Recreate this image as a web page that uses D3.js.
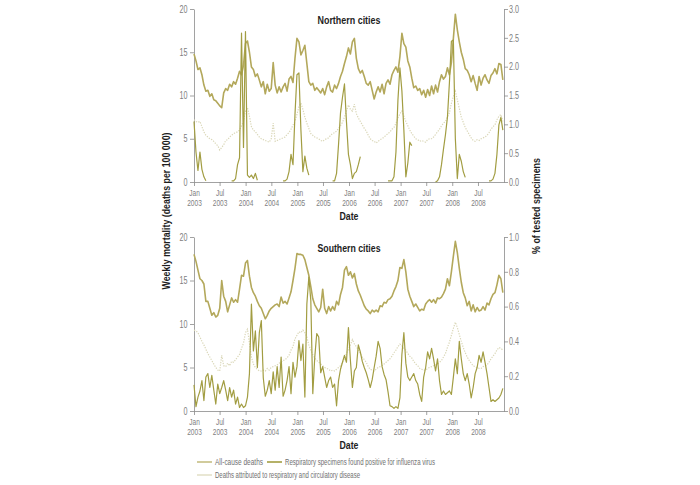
<!DOCTYPE html>
<html>
<head>
<meta charset="utf-8">
<script src="https://cdn.jsdelivr.net/npm/d3@7"></script>
<style>
  body { margin: 0; background: #fff; }
  text { font-family: "Liberation Sans", Arial, sans-serif; }
</style>
</head>
<body>
<div id="chart"></div>
<script>
// samples are every 2 weeks from 1 Jan 2003
const startDate = new Date(2003, 0, 1);
const stepDays = 14;

// Northern cities, deaths per 100 000
const northAllCause = [
  14.8, 14.0, 13.0, 13.2, 12.4, 11.2, 10.5, 10.6, 9.9, 10.2, 9.5, 9.4, 9.1,
  8.8, 8.6, 10.3, 10.8, 10.6, 11.3, 11.0, 11.6, 11.3, 12.0, 12.8, 12.4, 13.5,
  16.0, 16.3, 15.0, 13.3, 13.0, 12.2, 12.5, 11.8, 11.0, 11.6, 10.2, 11.3, 10.5,
  10.8, 13.8, 11.2, 10.3, 11.0, 10.4, 11.0, 11.4, 10.5, 11.9, 12.2, 11.5, 14.3,
  16.6, 16.2, 14.7, 15.2, 15.8, 13.7, 11.6, 11.2, 11.4, 10.6, 10.9, 10.6, 10.3,
  10.8, 10.1, 11.0, 11.6, 10.6, 10.4, 11.2, 10.8, 11.4, 12.2, 12.8, 13.7, 14.5,
  15.5, 14.8, 16.2, 16.6, 14.3, 13.1, 12.6, 12.9, 12.2, 11.4, 11.2, 11.6, 10.6,
  9.6, 10.4, 11.0, 10.4, 11.3, 10.2, 11.4, 11.8, 11.3, 12.4, 12.9, 13.3, 12.7,
  14.5, 17.2, 16.0, 15.6, 14.0, 13.3, 12.0, 10.9, 11.1, 10.6, 10.8, 10.1, 10.6,
  9.8, 10.7, 10.0, 11.1, 10.2, 11.2, 10.4, 11.6, 12.4, 11.9, 12.2, 13.2, 12.4,
  13.8, 16.6, 19.4, 17.6, 16.2, 15.0, 14.2, 13.1, 12.9, 12.4, 11.6, 12.3, 11.4,
  10.6, 12.2, 11.2, 12.0, 12.4, 11.8, 11.4, 12.3, 12.6, 13.1, 12.5, 13.7, 13.6,
  11.8
];
const northRespCirc = [
  7.2, 7.0, 6.9, 7.0, 6.4, 5.8, 5.4, 5.2, 5.0, 4.9, 4.7, 4.4, 4.2,
  3.7, 4.0, 4.3, 4.8, 4.9, 5.2, 5.4, 5.6, 5.7, 5.8, 6.0, 6.5, 7.0,
  8.2, 8.6, 7.6, 6.4, 6.0, 5.8, 5.5, 5.2, 5.0, 4.9, 4.8, 4.7, 4.6,
  5.0, 6.8, 4.7, 4.8, 4.9, 5.0, 5.1, 5.2, 5.5, 5.7, 6.1, 6.6, 7.0,
  7.8, 8.7, 9.1, 8.4, 7.5, 6.8, 6.2, 5.6, 5.4, 5.2, 5.1, 5.0, 4.8,
  4.7, 4.9, 5.0, 5.1, 5.4, 5.6, 5.7, 5.9, 6.2, 6.5, 6.9, 7.5, 8.2,
  8.9, 8.4, 8.2, 9.0, 7.9, 7.4, 7.0, 6.6, 6.2, 5.9, 5.4, 5.0, 4.8,
  4.7, 4.5, 4.7, 4.9, 5.0, 5.2, 5.4, 5.6, 5.8, 6.1, 6.3, 6.8, 7.4,
  7.9, 8.2, 7.6, 7.0, 6.5, 6.0, 5.6, 5.3, 5.0, 4.9, 4.7, 4.8, 4.7,
  4.6, 4.9, 5.0, 5.0, 5.2, 5.5, 5.8, 6.1, 6.5, 6.8, 7.0, 7.5, 8.0,
  9.1, 9.9, 10.5, 9.5, 8.5, 7.5, 6.9, 6.3, 5.9, 5.5, 5.1, 4.8, 4.7,
  4.9, 4.8, 5.0, 5.1, 5.2, 5.4, 5.7, 6.1, 6.4, 6.6, 7.2, 7.6, 7.8,
  7.0
];
// % of tested specimens positive for influenza (null = not reported)
const northFlu = [
  1.05, 0.52, 0.20, 0.52, 0.22, 0.09, 0.02, null, null, null, null, null, null,
  null, null, null, null, null, null, 0.02, 0.02, 0.06, 0.30, 0.42, 2.58, 0.60,
  2.61, 0.12, 0.08, 0.12, 0.06, 0.15, 0.03, null, null, null, null, null, null,
  null, null, null, null, null, null, 0.02, 0.02, 0.05, 0.18, 0.48, 0.30, 1.17,
  1.86, 1.89, 0.90, 0.18, 0.45, 0.24, 0.12, null, null, null, null, null, null,
  null, null, null, null, null, 0.02, 0.02, 0.15, 0.65, 1.20, 1.47, 1.70, 1.05,
  0.48, 0.30, 0.06, 0.15, 0.18, 0.30, 0.44, null, null, null, null, null, null,
  null, null, null, null, null, null, null, 0.02, 0.02, 0.02, 0.09, 0.52, 1.42,
  1.98, 1.58, 0.90, 0.09, 0.33, 0.69, 0.63, null, null, null, null, null, null,
  null, null, null, null, null, 0.0, 0.02, 0.09, 0.30, 0.57, 0.82, 1.12, 1.72,
  2.44, 2.46, 0.75, 0.06, 0.48, 0.36, 0.18, 0.08, null, null, null, null, null,
  null, null, null, null, null, null, 0.02, 0.02, 0.05, 0.15, 0.48, 0.99, 1.12,
  0.90
];

// Southern cities
const southAllCause = [
  18.0, 17.2, 16.2, 15.2, 15.0, 14.6, 12.6, 12.6, 11.8, 11.0, 11.3, 10.8, 11.0,
  11.8, 15.0, 13.2, 12.6, 11.4, 12.2, 13.0, 12.5, 12.8, 12.5, 14.0, 15.6, 15.5,
  17.0, 17.3, 15.5, 14.2, 13.6, 13.2, 12.6, 12.1, 11.8, 11.2, 10.6, 11.0, 11.5,
  11.8, 12.0, 12.2, 12.3, 12.0, 13.1, 12.4, 12.6, 12.3, 13.0, 13.7, 15.0, 16.4,
  18.1, 18.0, 18.0, 17.9, 17.4, 16.5, 15.6, 14.3, 12.9, 12.2, 11.8, 11.4, 11.9,
  14.0, 11.8, 11.2, 12.0, 11.5, 12.0, 11.6, 12.6, 12.2, 13.4, 14.2, 16.2, 16.6,
  15.6, 16.0, 15.3, 15.8, 14.6, 13.8, 13.3, 12.7, 12.1, 11.7, 11.5, 11.2, 11.6,
  11.4, 11.6, 11.4, 12.1, 12.0, 12.5, 12.4, 12.8, 12.9, 13.2, 13.8, 14.3, 15.0,
  16.5, 16.4, 17.4, 16.0, 14.0, 13.2, 12.6, 12.0, 12.3, 11.9, 11.5, 11.7, 11.6,
  12.3, 12.6, 12.8, 12.5, 12.8, 12.4, 13.0, 12.9, 13.1, 13.5, 14.0, 15.2, 14.4,
  16.0, 17.8, 19.5, 18.2, 16.4, 14.8, 13.6, 13.0, 12.1, 12.6, 11.5, 12.2, 11.4,
  11.9, 11.5, 11.6, 12.0, 11.6, 12.4, 12.2, 12.9, 13.4, 13.6, 14.5, 15.6, 15.2,
  13.6
];
const southRespCirc = [
  9.3, 9.2, 9.0, 8.5, 8.0, 7.6, 7.1, 6.6, 6.2, 5.8, 5.4, 5.0, 4.7,
  4.6, 6.4, 5.2, 5.1, 5.5, 5.2, 5.7, 5.6, 5.9, 6.2, 6.5, 7.2, 7.8,
  9.0, 9.4, 7.8, 6.2, 5.4, 5.0, 4.8, 4.6, 4.6, 4.7, 4.6, 4.9, 4.7,
  5.0, 5.1, 5.2, 5.3, 5.5, 5.6, 5.8, 5.9, 6.1, 6.4, 7.0, 7.4, 8.3,
  8.7, 9.1, 9.0, 9.3, 9.0, 8.5, 7.6, 7.0, 6.5, 6.1, 5.8, 5.6, 5.4,
  5.2, 5.0, 4.9, 4.8, 4.6, 4.7, 4.6, 4.8, 5.0, 5.2, 5.6, 6.0, 6.6,
  7.1, 7.6, 8.2, 7.7, 7.4, 7.0, 6.6, 6.2, 5.9, 5.6, 5.1, 4.8, 4.7,
  4.6, 4.8, 5.0, 5.1, 5.2, 5.4, 5.6, 5.8, 6.0, 6.3, 6.7, 7.0, 7.4,
  7.7, 7.5, 7.2, 7.0, 6.6, 6.3, 6.1, 5.7, 5.4, 5.2, 4.9, 4.8, 4.7,
  4.7, 4.9, 5.0, 5.1, 5.2, 5.3, 5.4, 5.6, 5.8, 6.2, 6.6, 7.3, 7.9,
  8.7, 9.5, 10.2, 9.6, 8.8, 8.0, 7.3, 6.7, 6.2, 5.8, 5.5, 5.2, 5.1,
  5.0, 4.9, 4.9, 5.1, 5.2, 5.3, 5.6, 6.0, 6.3, 6.6, 7.0, 7.3, 7.2,
  7.0
];
const southFlu = [
  0.15, 0.025, 0.08, 0.115, 0.175, 0.06, 0.195, 0.215, 0.135, 0.205, 0.12, 0.04, 0.155,
  0.10, 0.135, 0.175, 0.12, 0.06, 0.135, 0.08, 0.12, 0.04, 0.08, 0.02, 0.04, 0.02,
  0.03, 0.08, 0.215, 0.615, 0.345, 0.46, 0.25, 0.45, 0.52, 0.19, 0.085, 0.12, 0.175,
  0.10, 0.225, 0.12, 0.255, 0.135, 0.31, 0.085, 0.12, 0.175, 0.255, 0.10, 0.28, 0.195,
  0.255, 0.405, 0.29, 0.385, 0.08, 0.615, 0.77, 0.635, 0.10, 0.31, 0.445, 0.425, 0.22,
  0.255, 0.195, 0.135, 0.175, 0.195, 0.135, 0.155, 0.03, 0.175, 0.24, 0.28, 0.32, 0.28,
  0.48, 0.29, 0.135, 0.23, 0.25, 0.38, 0.34, 0.285, 0.25, 0.22, 0.18, 0.135, 0.18,
  0.25, 0.315, 0.40, 0.36, 0.255, 0.21, 0.18, 0.11, 0.03, 0.025, 0.015, 0.025, 0.015,
  0.075, 0.325, 0.45, 0.275, 0.195, 0.175, 0.195, 0.215, 0.175, 0.155, 0.095, 0.055, 0.195,
  0.25, 0.34, 0.30, 0.36, 0.30, 0.23, 0.30, 0.175, 0.095, 0.115, 0.095, 0.105, 0.115,
  0.095, 0.195, 0.30, 0.215, 0.40, 0.30, 0.215, 0.175, 0.215, 0.155, 0.075, 0.135, 0.215,
  0.25, 0.32, 0.28, 0.34, 0.28, 0.215, 0.135, 0.055, 0.065, 0.055, 0.065, 0.075, 0.095,
  0.13
];

const mortalityTicks = [0, 5, 10, 15, 20];
const northPctTicks = [0, 0.5, 1.0, 1.5, 2.0, 2.5, 3.0];
const southPctTicks = [0, 0.2, 0.4, 0.6, 0.8, 1.0];
const monthNames = ['Jan', 'Jul'];

const legendItems = [
  'All-cause deaths',
  'Respiratory specimens found positive for influenza virus',
  'Deaths attributed to respiratory and circulatory disease'
];

const COL_ALL = '#b3a85b';
const COL_FLU = '#a29d42';
const COL_RESP = '#dad7b8';
const AXIS = '#8a8a8a';
const TXT = '#808080';
const SQUEEZE = 'scale(0.72,1)';

const width = 700;
const height = 485;
const left = 194;
const right = 504;

const svg = d3.select('#chart')
  .append('svg')
  .attr('width', width)
  .attr('height', height);

const xScale = d3.scaleTime()
  .domain([new Date(2003, 0, 1), new Date(2009, 0, 1)])
  .range([left, right]);

const dateAt = i => d3.timeDay.offset(startDate, i * stepDays);
const xTicks = d3.timeMonth.every(6).range(new Date(2003, 0, 1), new Date(2009, 0, 1));

// bold label squeezed to the width it has in the original
const label = (parent, text, size, fitWidth) => parent.append('text')
  .attr('text-anchor', 'middle')
  .attr('font-weight', 'bold')
  .attr('font-size', size)
  .attr('fill', '#1e1e1e')
  .attr('textLength', fitWidth)
  .attr('lengthAdjust', 'spacingAndGlyphs')
  .text(text);

const drawPanel = (top, bottom, title, allCause, respCirc, flu, pctTicks) => {
  const g = svg.append('g');
  const yScale = d3.scaleLinear().domain([0, 20]).range([bottom, top]);
  const pctScale = d3.scaleLinear()
    .domain([0, d3.max(pctTicks)])
    .range([bottom, top]);

  const xAxis = g.append('g')
    .attr('transform', `translate(0, ${bottom})`)
    .call(d3.axisBottom(xScale).tickValues(xTicks).tickSize(4).tickSizeOuter(0).tickFormat(''));
  xAxis.selectAll('.tick text').remove();
  xAxis.selectAll('.tick').each(function(d) {
    const tick = d3.select(this);
    tick.append('text')
      .attr('class', 'xlab')
      .attr('text-anchor', 'middle')
      .attr('transform', SQUEEZE)
      .attr('y', 14)
      .text(monthNames[d.getMonth() === 0 ? 0 : 1]);
    tick.append('text')
      .attr('class', 'xlab')
      .attr('text-anchor', 'middle')
      .attr('transform', SQUEEZE)
      .attr('y', 24.2)
      .text(d.getFullYear());
  });
  xAxis.selectAll('.xlab').attr('fill', TXT).attr('font-size', 9.1);

  g.append('g')
    .attr('transform', `translate(${left}, 0)`)
    .call(d3.axisLeft(yScale).tickValues(mortalityTicks).tickSize(4).tickSizeOuter(0).tickPadding(5));

  g.append('g')
    .attr('transform', `translate(${right}, 0)`)
    .call(d3.axisRight(pctScale).tickValues(pctTicks).tickSize(4).tickSizeOuter(0).tickPadding(3)
      .tickFormat(d3.format('.1f')));

  g.selectAll('.domain, .tick line').attr('stroke', AXIS).attr('stroke-width', 0.8);
  g.selectAll('.tick text:not(.xlab)')
    .attr('fill', TXT)
    .attr('font-size', 10)
    .attr('font-family', '"Liberation Sans", Arial, sans-serif')
    .attr('transform', SQUEEZE);

  const mortLine = d3.line()
    .x((d, i) => xScale(dateAt(i)))
    .y(d => yScale(d));

  const fluLine = d3.line()
    .defined(d => d !== null)
    .x((d, i) => xScale(dateAt(i)))
    .y(d => pctScale(d));

  g.append('path')
    .datum(respCirc)
    .attr('fill', 'none')
    .attr('stroke', COL_RESP)
    .attr('stroke-width', 1.2)
    .attr('stroke-dasharray', '1.3,1.3')
    .attr('d', mortLine);

  g.append('path')
    .datum(allCause)
    .attr('fill', 'none')
    .attr('stroke', COL_ALL)
    .attr('stroke-width', 1.6)
    .attr('stroke-linejoin', 'round')
    .attr('d', mortLine);

  g.append('path')
    .datum(flu)
    .attr('fill', 'none')
    .attr('stroke', COL_FLU)
    .attr('stroke-width', 1.2)
    .attr('stroke-linejoin', 'round')
    .attr('d', fluLine);

  label(g, title, 11.5, 63).attr('x', 349).attr('y', top + 15);
  label(g, 'Date', 11.5, 19).attr('x', 349).attr('y', bottom + 38);
};

drawPanel(9, 182, 'Northern cities', northAllCause, northRespCirc, northFlu, northPctTicks);
drawPanel(237, 411, 'Southern cities', southAllCause, southRespCirc, southFlu, southPctTicks);

label(svg, 'Weekly mortality (deaths per 100 000)', 11, 157)
  .attr('transform', 'translate(170, 211) rotate(-90)');
label(svg, '% of tested specimens', 11, 96)
  .attr('transform', 'translate(540, 206) rotate(-90)');

// legend
const legend = svg.append('g');
const legendPos = [[197, 462], [267, 462], [197, 475]];
const legendWidths = [48, 150, 145];
const legendStyles = [
  { stroke: COL_ALL, w: 1.2 },
  { stroke: COL_FLU, w: 1.6 },
  { stroke: COL_RESP, w: 1.2 }
];
legendItems.forEach((name, i) => {
  const [lx, ly] = legendPos[i];
  legend.append('line')
    .attr('x1', lx).attr('x2', lx + 15)
    .attr('y1', ly).attr('y2', ly)
    .attr('stroke', legendStyles[i].stroke)
    .attr('stroke-width', legendStyles[i].w);
  legend.append('text')
    .attr('x', lx + 18)
    .attr('y', ly + 3)
    .attr('font-size', 9)
    .attr('fill', '#707070')
    .attr('textLength', legendWidths[i])
    .attr('lengthAdjust', 'spacingAndGlyphs')
    .text(name);
});
</script>
</body>
</html>
